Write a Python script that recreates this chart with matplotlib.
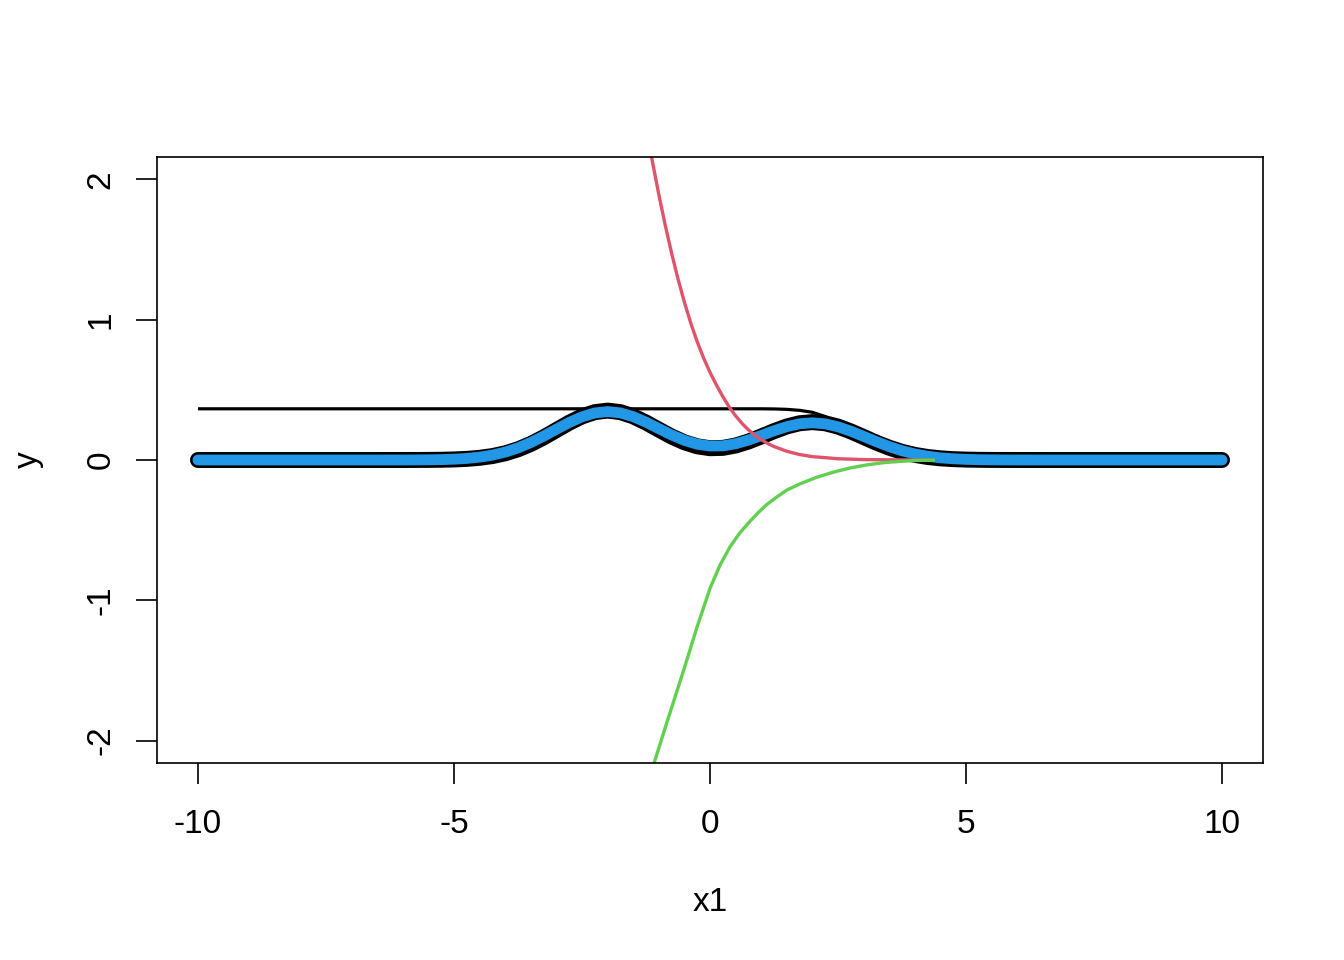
import matplotlib
matplotlib.use("Agg")
import matplotlib.pyplot as plt

plt.rcParams['font.family'] = ['Liberation Sans', 'DejaVu Sans']

# Density curves
dens_x = [-10, -8, -6.5, -6, -5.75, -5.5, -5.25, -5, -4.75, -4.5, -4.25, -4, -3.75,
          -3.5, -3.25, -3, -2.75, -2.5, -2.25, -2, -1.75, -1.5, -1.25, -1, -0.75,
          -0.5, -0.25, 0, 0.25, 0.5, 0.75, 1, 1.25, 1.5, 1.75, 2, 2.25, 2.5, 2.75,
          3, 3.25, 3.5, 3.75, 4, 4.25, 4.5, 4.75, 5, 5.25, 5.5, 5.75, 6, 6.5, 8, 10]
dens_black = [0, 0, 0, 0.0001, 0.0003, 0.0008, 0.0018, 0.0039, 0.008, 0.0155, 0.028,
              0.0476, 0.0761, 0.1143, 0.1611, 0.2135, 0.2657, 0.3106, 0.3412, 0.3521,
              0.3412, 0.3112, 0.2671, 0.2165, 0.1673, 0.1262, 0.0976, 0.0841, 0.0864,
              0.1032, 0.1316, 0.1677, 0.2056, 0.2391, 0.262, 0.2701, 0.2617, 0.2383,
              0.2038, 0.1638, 0.1236, 0.0877, 0.0584, 0.0365, 0.0215, 0.0119, 0.0062,
              0.003, 0.0014, 0.0006, 0.0002, 0.0001, 0, 0, 0]
dens_blue = [0, 0, 0, 0.0002, 0.0006, 0.0013, 0.0029, 0.0058, 0.0112, 0.0203, 0.0347,
             0.0562, 0.086, 0.1243, 0.1698, 0.2193, 0.2674, 0.308, 0.3354, 0.3452,
             0.3358, 0.309, 0.2696, 0.2238, 0.1784, 0.1399, 0.1127, 0.0994, 0.1007,
             0.1158, 0.1417, 0.1743, 0.2083, 0.2379, 0.2582, 0.2652, 0.2577, 0.2366,
             0.2054, 0.1685, 0.1305, 0.0955, 0.066, 0.0432, 0.0267, 0.0156, 0.0086,
             0.0045, 0.0022, 0.001, 0.0005, 0.0002, 0, 0, 0]

# Thin black line
thin_x = [-10, 0, 1.0, 1.25, 1.5, 1.75, 2.0, 2.25, 2.5]
thin_y = [0.365, 0.365, 0.365, 0.364, 0.361, 0.354, 0.34, 0.31, 0.25]

# Red curve
red_x = [-1.25, -1.125, -1.0, -0.875, -0.75, -0.625, -0.5, -0.375, -0.25, -0.125, 0,
         0.125, 0.25, 0.375, 0.5, 0.625, 0.75, 0.875, 1.0, 1.125, 1.25, 1.5, 1.75,
         2.0, 2.5, 3.0, 3.5, 4.0, 4.3]
red_y = [2.381, 2.128, 1.893, 1.675, 1.474, 1.291, 1.125, 0.975, 0.843, 0.727, 0.625,
         0.535, 0.452, 0.378, 0.315, 0.261, 0.215, 0.177, 0.145, 0.118, 0.096, 0.062,
         0.039, 0.024, 0.009, 0.003, 0.001, 0.0002, 0.0001]

# Green curve
green_x = [-1.2, -1.074, -0.846, -0.521, -0.26, 0, 0.195, 0.391, 0.586, 0.781, 0.95,
           1.107, 1.3, 1.498, 1.758, 2.084, 2.408, 2.734, 3.06, 3.385, 3.711, 4.036,
           4.36]
green_y = [-2.29, -2.14, -1.875, -1.506, -1.199, -0.915, -0.75, -0.619, -0.518,
           -0.437, -0.372, -0.318, -0.265, -0.215, -0.17, -0.123, -0.087, -0.057,
           -0.035, -0.019, -0.01, -0.003, -0.001]

xticks = [-10, -5, 0, 5, 10]
yticks = [-2, -1, 0, 1, 2]

fig = plt.figure(figsize=(13.44, 9.6), dpi=100)
ax = fig.add_axes([157/1344, (960-763)/960, (1263-157)/1344, (763-157)/960])

ax.plot(thin_x, thin_y, color='black', lw=2.3, solid_capstyle='butt')
ax.plot(dens_x, dens_black, color='black', lw=11.5, solid_capstyle='round',
        solid_joinstyle='round')
ax.plot(dens_x, dens_blue, color='#2297E6', lw=7.8, solid_capstyle='round',
        solid_joinstyle='round')
ax.plot(red_x, red_y, color='#DF536B', lw=2.4)
ax.plot(green_x, green_y, color='#61D04F', lw=2.4)

ax.set_xlim(-10.8, 10.8)
ax.set_ylim(-2.16, 2.16)
ax.set_xticks(xticks)
ax.set_xticklabels([str(v) for v in xticks])
ax.set_yticks(yticks)
ax.set_yticklabels([str(v) for v in yticks], rotation=90, va='center')
ax.tick_params(axis='both', length=15, width=1.2, labelsize=24, color='black')
ax.tick_params(axis='x', pad=18)
ax.tick_params(axis='y', pad=14)
for s in ax.spines.values():
    s.set_linewidth(1.2)
ax.set_xlabel('x1', fontsize=24, labelpad=34)
ax.set_ylabel('y', fontsize=24, labelpad=30)

fig.savefig('out.png', dpi=100)
